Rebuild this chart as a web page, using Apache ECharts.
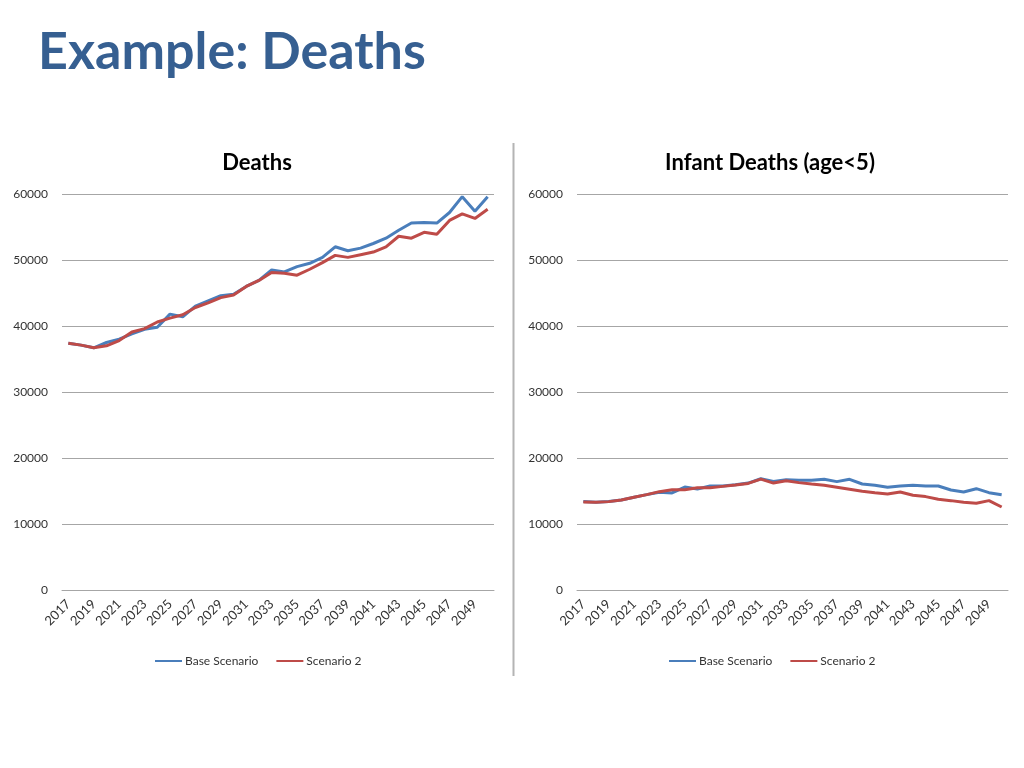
<!DOCTYPE html>
<html>
<head>
<meta charset="utf-8">
<script src="https://cdn.jsdelivr.net/npm/echarts@6/dist/echarts.min.js"></script>
<style>
  html, body { margin: 0; padding: 0; background: #fff; }
  #chart { width: 1024px; height: 768px; }
</style>
</head>
<body>
<div id="chart"></div>
<script>
const years = ['2017','2018','2019','2020','2021','2022','2023','2024','2025','2026','2027','2028','2029','2030','2031','2032','2033','2034','2035','2036','2037','2038','2039','2040','2041','2042','2043','2044','2045','2046','2047','2048','2049','2050'];
const yTicks = [0, 10000, 20000, 30000, 40000, 50000, 60000];
const seriesNames = ['Base Scenario', 'Scenario 2'];

const deathsBase = [37400,37100,36700,37500,38000,38800,39500,39800,41800,41400,43000,43800,44600,44800,46000,46900,48500,48200,49000,49500,50400,52000,51400,51800,52500,53300,54500,55600,55700,55600,57200,59600,57400,59600];
const deathsS2   = [37400,37100,36700,37000,37800,39100,39600,40600,41200,41700,42800,43500,44300,44700,46000,46900,48100,48000,47700,48600,49600,50700,50400,50800,51200,52000,53600,53300,54200,53900,56000,57000,56300,57700];

const infantBase = [13400,13300,13400,13650,14050,14450,14800,14700,15600,15300,15750,15750,15950,16200,16850,16450,16700,16620,16620,16770,16420,16770,16060,15860,15560,15760,15860,15760,15760,15150,14850,15350,14750,14440];
const infantS2   = [13350,13300,13390,13640,14050,14450,14900,15200,15200,15500,15500,15700,15900,16150,16800,16200,16550,16270,16060,15860,15560,15260,14960,14750,14550,14850,14350,14150,13740,13540,13290,13140,13540,12580];

const FONT = 'Lato, "Open Sans", sans-serif';
const BLUE = '#4a7ebb';
const RED = '#be4b48';
const GRID_C = '#a6a6a6';

const chart = echarts.init(document.getElementById('chart'));

function xAxis(gi) {
  return {
    type: 'category', gridIndex: gi, data: years, boundaryGap: true,
    axisLine: { lineStyle: { color: GRID_C, width: 1 } },
    axisTick: { show: false },
    axisLabel: { interval: 1, rotate: 45, fontFamily: FONT, fontSize: 13, color: '#333', margin: 12 }
  };
}
function yAxis(gi) {
  return {
    type: 'value', gridIndex: gi, min: yTicks[0], max: yTicks[yTicks.length - 1], interval: yTicks[1] - yTicks[0],
    axisLine: { show: false }, axisTick: { show: false },
    splitLine: { lineStyle: { color: GRID_C, width: 1 } },
    axisLabel: { fontFamily: FONT, fontSize: 12, color: '#333', margin: 14, formatter: v => String(v) }
  };
}
function line(name, data, color, gi) {
  return {
    type: 'line', name: name, data: data, xAxisIndex: gi, yAxisIndex: gi,
    symbol: 'none', smooth: false, animation: false,
    lineStyle: { color: color, width: 3 }, itemStyle: { color: color }
  };
}
function legend(left) {
  return {
    data: seriesNames, left: left, top: 655, padding: 0, icon: 'rect', itemWidth: 27, itemHeight: 2, itemGap: 18,
    textStyle: { fontFamily: FONT, fontSize: 12, color: '#333', padding: [0, 0, 0, -2] },
    selectedMode: false
  };
}

chart.setOption({
  animation: false,
  grid: [
    { left: 62, right: 530, top: 194, bottom: 178, containLabel: false },
    { left: 577, right: 16, top: 194, bottom: 178, containLabel: false }
  ],
  xAxis: [xAxis(0), xAxis(1)],
  yAxis: [yAxis(0), yAxis(1)],
  legend: [legend(155), legend(669)],
  series: [
    line(seriesNames[0], deathsBase, BLUE, 0),
    line(seriesNames[1], deathsS2, RED, 0),
    line(seriesNames[0], infantBase, BLUE, 1),
    line(seriesNames[1], infantS2, RED, 1)
  ],
  graphic: [
    { type: 'text', left: 38, top: 26, style: { text: 'Example: Deaths', font: 'bold 52px ' + FONT, fill: '#365f91' } },
    { type: 'text', x: 257, y: 163, style: { text: 'Deaths', font: 'bold 22px ' + FONT, fill: '#000', textAlign: 'center', textVerticalAlign: 'middle' } },
    { type: 'text', x: 770, y: 163, style: { text: 'Infant Deaths (age<5)', font: 'bold 22px ' + FONT, fill: '#000', textAlign: 'center', textVerticalAlign: 'middle' } },
    { type: 'line', shape: { x1: 513.5, y1: 143, x2: 513.5, y2: 676 }, style: { stroke: '#b4b4b4', lineWidth: 2 } }
  ]
});
</script>
</body>
</html>
